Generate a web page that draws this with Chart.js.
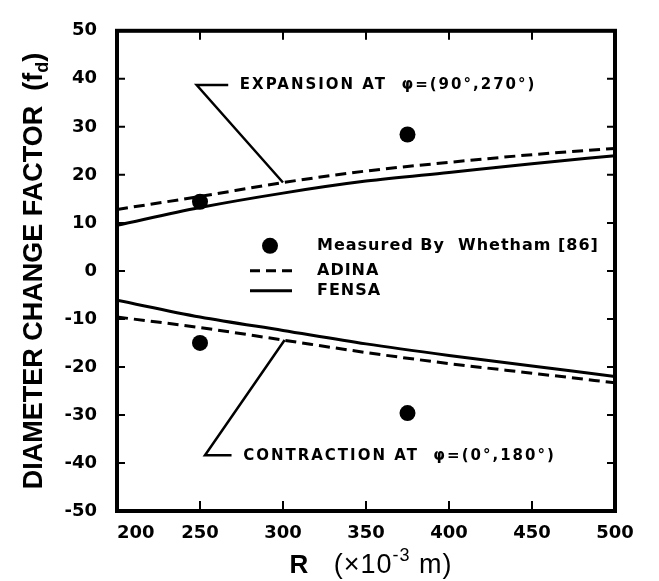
<!DOCTYPE html>
<html>
<head>
<meta charset="utf-8">
<script src="https://cdn.jsdelivr.net/npm/chart.js@4.4.1/dist/chart.umd.min.js"></script>
<style>
  html, body { margin: 0; padding: 0; background: #fff; }
  #wrap { width: 659px; height: 581px; }
</style>
</head>
<body>
<div id="wrap"><canvas id="c" width="659" height="581"></canvas></div>
<script>
// Radius of the opening, R (x10^-3 m)
const radii = [200, 250, 300, 350, 400, 450, 500];

// Diameter change factor f_d, expansion at phi = (90°, 270°)
const adinaExpansion = [12.8, 15.5, 18.4, 20.8, 22.6, 24.2, 25.5];
const fensaExpansion = [9.5, 13.2, 16.2, 18.7, 20.5, 22.3, 24.0];

// Diameter change factor f_d, contraction at phi = (0°, 180°)
const adinaContraction = [-9.6, -11.8, -14.4, -17.0, -19.3, -21.3, -23.3];
const fensaContraction = [-6.1, -9.6, -12.4, -15.2, -17.6, -19.8, -22.0];

// Field measurements
const measuredR = [250, 375, 250, 375];
const measuredF = [14.4, 28.4, -15.0, -29.6];

// Axis ranges / tick steps
const xRange = [200, 500];
const xStep = 50;
const yRange = [-50, 50];
const yStep = 10;

const INK = '#000';

function pts(xs, ys) { return xs.map((x, i) => ({ x: x, y: ys[i] })); }

function lineSet(label, data, dashed) {
  return {
    label: label,
    data: data,
    showLine: true,
    borderColor: INK,
    borderWidth: 3,
    borderDash: dashed ? [11, 6] : [],
    pointRadius: 0,
    cubicInterpolationMode: 'monotone',
    fill: false
  };
}

// Frame, inward ticks, axis titles, legend and callouts
const decorations = {
  id: 'decorations',
  afterDatasetsDraw(chart) {
    const ctx = chart.ctx;
    const a = chart.chartArea;
    const xs = chart.scales.x, ys = chart.scales.y;
    const px = v => xs.getPixelForValue(v);
    const py = v => ys.getPixelForValue(v);
    const setSpacing = s => { if ('letterSpacing' in ctx) ctx.letterSpacing = s; };
    ctx.save();
    ctx.strokeStyle = INK;
    ctx.fillStyle = INK;

    // inward tick marks on all four sides
    ctx.lineWidth = 2;
    ctx.beginPath();
    for (let v = xRange[0] + xStep; v < xRange[1]; v += xStep) {
      const x = px(v);
      ctx.moveTo(x, a.bottom); ctx.lineTo(x, a.bottom - 10);
      ctx.moveTo(x, a.top); ctx.lineTo(x, a.top + 9);
    }
    for (let v = yRange[0] + yStep; v < yRange[1]; v += yStep) {
      const y = py(v);
      ctx.moveTo(a.left, y); ctx.lineTo(a.left + 8, y);
      ctx.moveTo(a.right, y); ctx.lineTo(a.right - 8, y);
    }
    ctx.stroke();

    // plot frame
    ctx.lineWidth = 4;
    ctx.strokeRect(a.left, a.top, a.right - a.left, a.bottom - a.top);

    // callouts
    ctx.lineWidth = 2.5;
    ctx.beginPath();
    ctx.moveTo(px(267), py(38.7));
    ctx.lineTo(px(248), py(38.7));
    ctx.lineTo(px(300), py(adinaExpansion[2]));
    ctx.moveTo(px(269), py(-38.4));
    ctx.lineTo(px(253), py(-38.4));
    ctx.lineTo(px(301), py(adinaContraction[2]));
    ctx.stroke();

    ctx.font = 'bold 15px "DejaVu Sans"';
    ctx.textBaseline = 'middle';
    ctx.textAlign = 'left';
    setSpacing('2px');
    ctx.fillText('EXPANSION AT  \u03c6=(90\u00b0,270\u00b0)', px(274), py(38.7));
    ctx.fillText('CONTRACTION AT  \u03c6=(0\u00b0,180\u00b0)', px(276), py(-38.6));

    // legend
    const lx0 = a.left + 133, lx1 = a.left + 175, tx = a.left + 200;
    const ly = [a.top + 215, a.top + 240, a.top + 260];
    ctx.beginPath();
    ctx.arc((lx0 + lx1) / 2 - 1, ly[0], 8, 0, Math.PI * 2);
    ctx.fill();
    ctx.lineWidth = 3;
    ctx.setLineDash([10, 6]);
    ctx.beginPath(); ctx.moveTo(lx0, ly[1]); ctx.lineTo(lx1, ly[1]); ctx.stroke();
    ctx.setLineDash([]);
    ctx.beginPath(); ctx.moveTo(lx0, ly[2]); ctx.lineTo(lx1, ly[2]); ctx.stroke();
    ctx.font = 'bold 16px "DejaVu Sans"';
    setSpacing('1px');
    ctx.fillText('Measured By  Whetham [86]', tx, ly[0]);
    ctx.fillText('ADINA', tx, ly[1]);
    ctx.fillText('FENSA', tx, ly[2]);
    setSpacing('0px');

    // y-axis title with subscript d
    ctx.save();
    ctx.translate(32, (a.top + a.bottom) / 2);
    ctx.rotate(-Math.PI / 2);
    const yMain = 'DIAMETER CHANGE FACTOR  (f';
    const bigY = 'bold 27px "Liberation Sans"', smallY = 'bold 18px "Liberation Sans"';
    ctx.font = bigY; const w1 = ctx.measureText(yMain).width;
    ctx.font = smallY; const w2 = ctx.measureText('d').width;
    ctx.font = bigY; const w3 = ctx.measureText(')').width;
    const x0 = -(w1 + w2 + w3) / 2;
    ctx.textBaseline = 'alphabetic';
    ctx.fillText(yMain, x0, 10);
    ctx.font = smallY; ctx.fillText('d', x0 + w1, 16);
    ctx.font = bigY; ctx.fillText(')', x0 + w1 + w2, 10);
    ctx.restore();

    // x-axis title with superscript exponent
    const parts = [
      { t: 'R', f: 'bold 26px "Liberation Sans"', dy: 0, sp: '0px' },
      { t: '   (\u00d710', f: '27px "Liberation Sans"', dy: 0, sp: '1px' },
      { t: '-3', f: '18px "Liberation Sans"', dy: -12, sp: '1px' },
      { t: ' m)', f: '27px "Liberation Sans"', dy: 0, sp: '1px' }
    ];
    let total = 0;
    parts.forEach(p => { ctx.font = p.f; setSpacing(p.sp); p.w = ctx.measureText(p.t).width; total += p.w; });
    let cx = 371 - total / 2;
    ctx.textBaseline = 'alphabetic';
    parts.forEach(p => { ctx.font = p.f; setSpacing(p.sp); ctx.fillText(p.t, cx, 573 + p.dy); cx += p.w; });
    setSpacing('0px');

    ctx.restore();
  }
};

new Chart(document.getElementById('c'), {
  type: 'scatter',
  data: {
    datasets: [
      lineSet('ADINA expansion', pts(radii, adinaExpansion), true),
      lineSet('FENSA expansion', pts(radii, fensaExpansion), false),
      lineSet('ADINA contraction', pts(radii, adinaContraction), true),
      lineSet('FENSA contraction', pts(radii, fensaContraction), false),
      {
        label: 'Measured',
        data: pts(measuredR, measuredF),
        showLine: false,
        pointRadius: 8,
        pointBackgroundColor: INK,
        pointBorderColor: INK,
        pointBorderWidth: 0
      }
    ]
  },
  options: {
    responsive: false,
    animation: false,
    devicePixelRatio: 1,
    layout: { padding: { top: 18, right: 44, left: 0, bottom: 0 } },
    plugins: { legend: { display: false }, tooltip: { enabled: false } },
    scales: {
      x: {
        type: 'linear',
        min: xRange[0], max: xRange[1],
        grid: { display: false, drawTicks: false },
        border: { display: false },
        ticks: {
          stepSize: xStep, color: INK, padding: 12, maxRotation: 0,
          font: { family: 'DejaVu Sans', size: 18, weight: 'bold' },
          // keep the first label clear of the vertical axis
          callback: v => (v === xRange[0] ? '\u2007\u2007\u2007' + v : String(v))
        },
        afterFit: s => { s.height = 70; }
      },
      y: {
        type: 'linear',
        min: yRange[0], max: yRange[1],
        grid: { display: false, drawTicks: false },
        border: { display: false },
        ticks: { stepSize: yStep, color: INK, font: { family: 'DejaVu Sans', size: 18, weight: 'bold' }, padding: 20 },
        afterFit: s => { s.width = 117; }
      }
    }
  },
  plugins: [decorations]
});
</script>
</body>
</html>
